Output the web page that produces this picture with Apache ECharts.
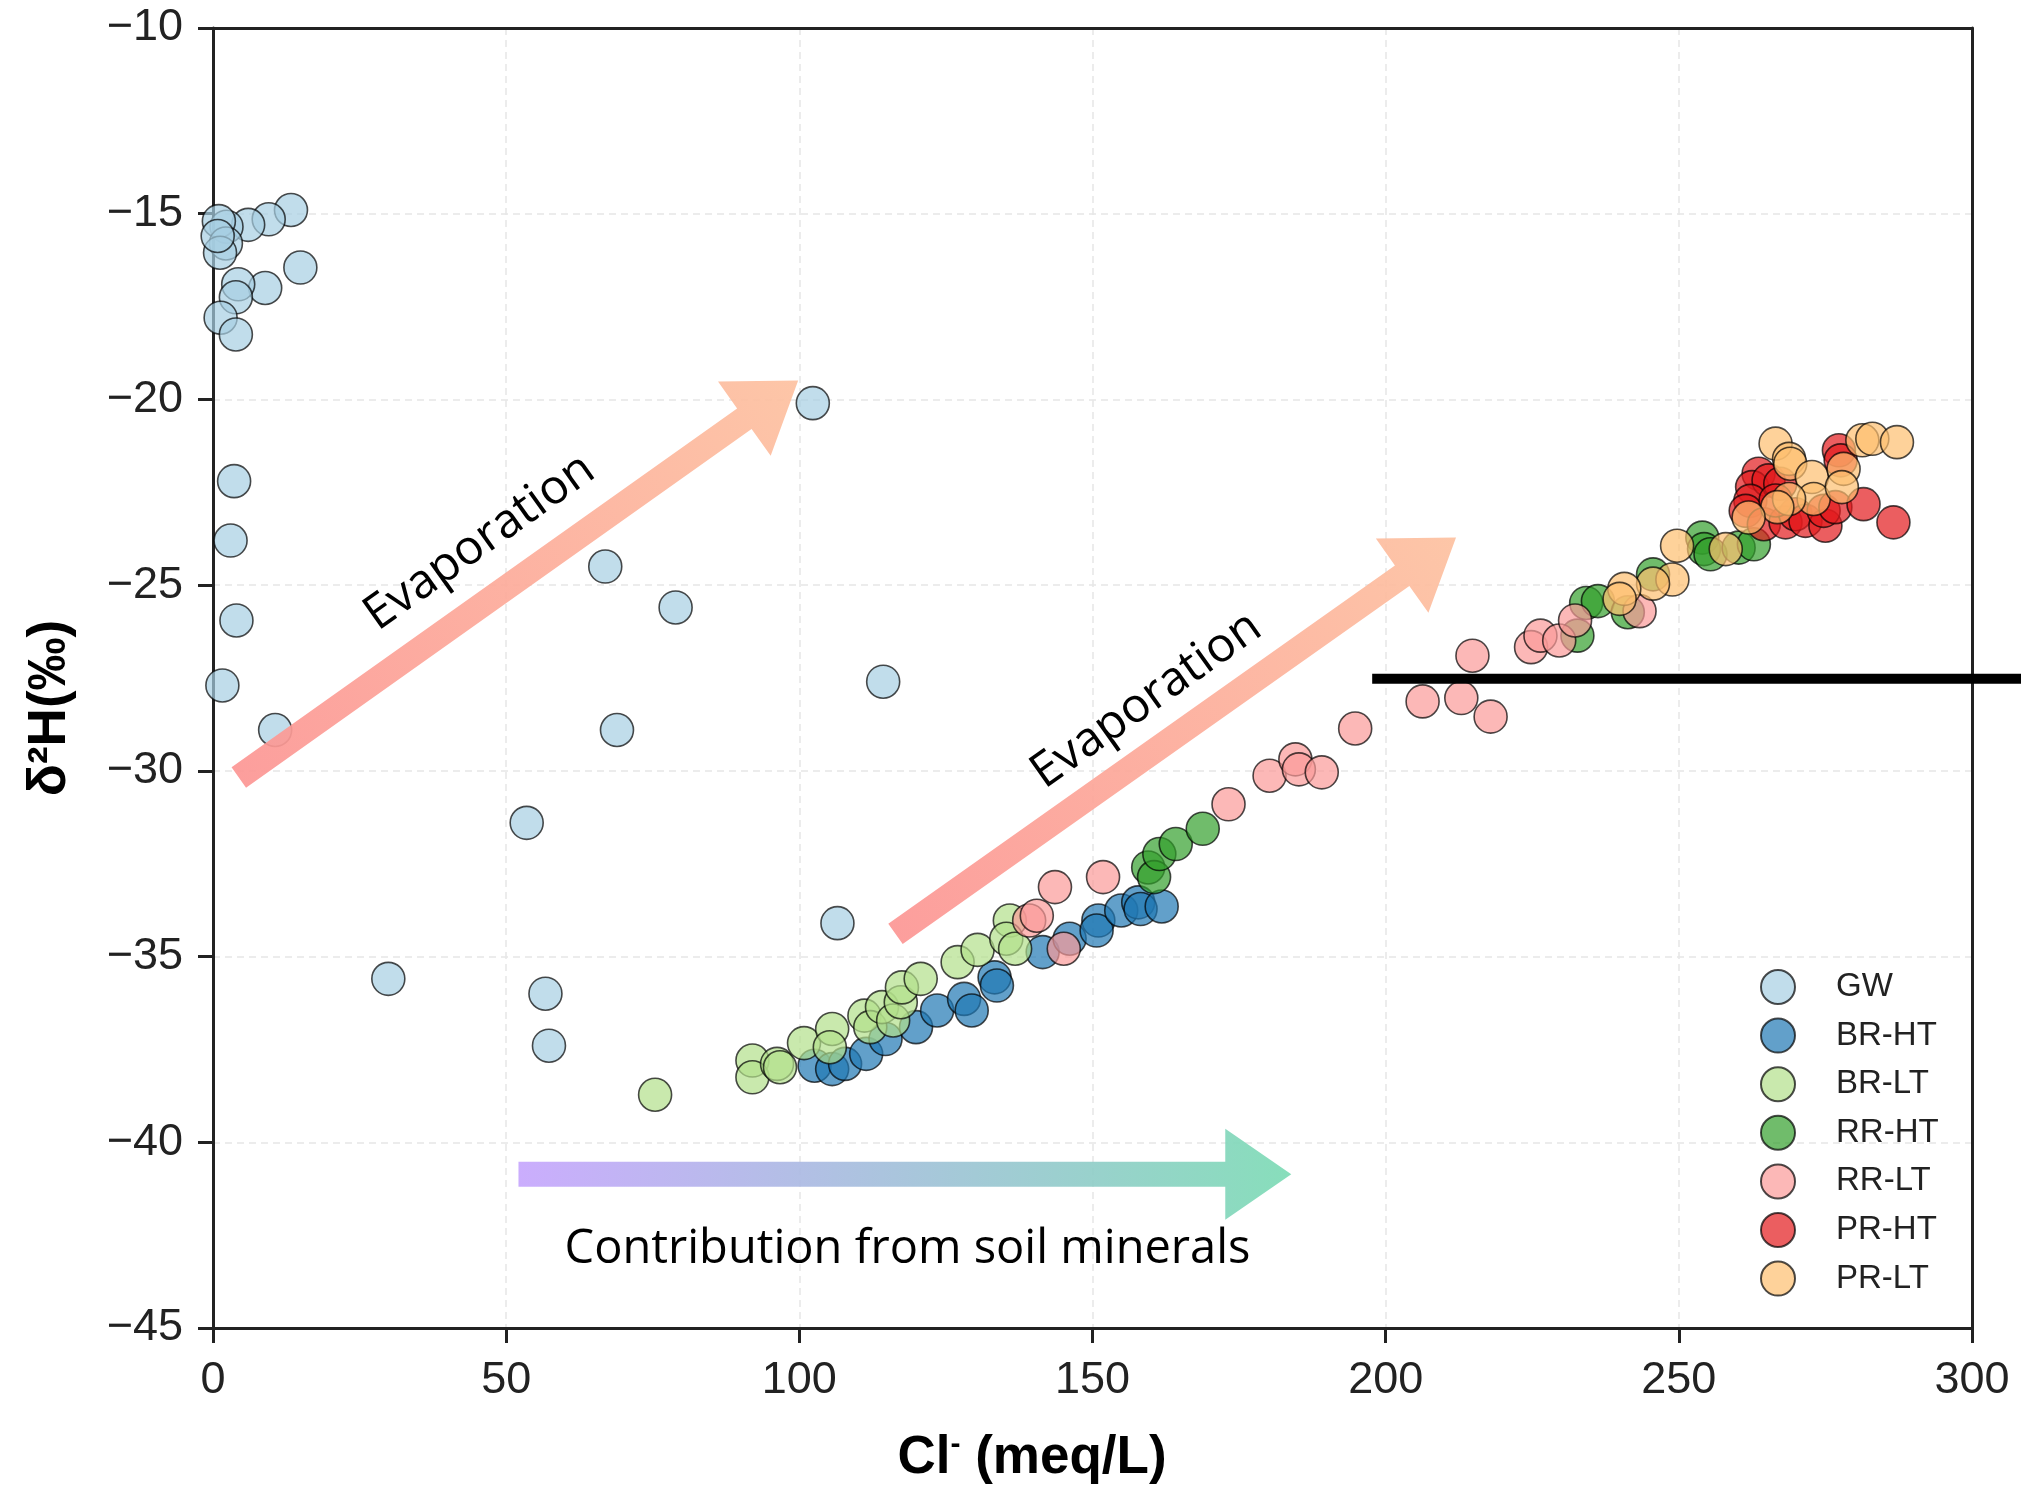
<!DOCTYPE html>
<html>
<head>
<meta charset="utf-8">
<title>δ2H vs Cl-</title>
<script src="https://cdn.jsdelivr.net/npm/echarts/dist/echarts.min.js"></script>
<style>
  html, body { margin: 0; padding: 0; background: #fff; }
  #myChart { width: 2021px; height: 1489px; }
</style>
</head>
<body>
<div id="myChart"></div>
<script>
// 坐标轴刻度
const xTicks = [0, 50, 100, 150, 200, 250, 300]
const yTicks = [-45, -40, -35, -30, -25, -20, -15, -10]

// 各组样品 [Cl-, δ2H]
const seriesNames = ['GW', 'BR-HT', 'BR-LT', 'RR-HT', 'RR-LT', 'PR-HT', 'PR-LT']
const seriesColors = ['#a6cee3', '#1f78b4', '#b2df8a', '#33a02c', '#fb9a99', '#e31a1c', '#fdbf6f']

const gw = [
  [13.3, -14.9], [9.5, -15.15], [6.0, -15.3], [2.3, -15.35], [1.0, -15.2], [2.2, -15.8],
  [1.2, -16.05], [0.8, -15.6], [14.9, -16.45], [8.9, -17.0], [4.3, -16.9], [3.9, -17.25],
  [1.3, -17.8], [3.9, -18.25], [3.6, -22.2], [3.0, -23.8], [4.0, -25.95], [1.6, -27.7],
  [10.6, -28.9], [102.3, -20.1], [66.9, -24.5], [78.9, -25.6], [114.3, -27.6], [68.9, -28.9],
  [53.5, -31.4], [106.5, -34.1], [29.9, -35.6], [56.7, -36.0], [57.3, -37.4]
]
const brHt = [
  [102.6, -37.94], [105.6, -38.03], [107.8, -37.89], [111.4, -37.62], [114.7, -37.22],
  [119.9, -36.9], [123.5, -36.45], [128.1, -36.14], [129.4, -36.45], [133.3, -35.56],
  [133.7, -35.78], [141.5, -34.88], [146.1, -34.52], [151.0, -34.03], [150.7, -34.3],
  [154.9, -33.76], [157.8, -33.54], [158.2, -33.72], [161.8, -33.65]
]
const brLt = [
  [75.4, -38.72], [92.0, -37.8], [92.0, -38.25], [96.2, -37.89], [96.7, -37.98],
  [100.8, -37.33], [105.6, -36.95], [105.2, -37.44], [111.1, -36.59], [112.1, -36.9],
  [114.1, -36.36], [116.0, -36.72], [117.3, -36.23], [117.5, -35.83], [120.7, -35.6],
  [127.0, -35.15], [130.4, -34.82], [135.9, -34.03], [135.3, -34.52], [136.8, -34.79]
]
const rrHt = [
  [159.5, -32.6], [160.5, -32.86], [161.4, -32.24], [164.2, -31.97], [168.8, -31.56],
  [232.7, -26.36], [234.2, -25.48], [236.2, -25.43], [241.3, -25.73], [245.6, -24.71],
  [254.0, -23.72], [254.3, -24.03], [255.4, -24.17], [260.2, -23.99], [262.8, -23.9]
]
const rrLt = [
  [139.2, -34.03], [140.5, -33.9], [143.6, -33.13], [145.1, -34.79], [151.8, -32.86],
  [173.2, -30.9], [180.2, -30.13], [184.6, -29.69], [185.2, -29.96], [189.1, -30.04],
  [194.8, -28.86], [206.3, -28.13], [212.9, -28.04], [217.9, -28.54], [214.8, -26.9],
  [224.8, -26.67], [226.4, -26.36], [229.6, -26.49], [232.3, -25.95], [243.3, -25.7]
]
const prHt = [
  [263.6, -22.0], [262.5, -22.36], [265.3, -22.18], [267.3, -22.27], [262.2, -22.73],
  [261.4, -23.0], [264.5, -23.36], [268.2, -23.31], [269.9, -23.09], [271.6, -23.27],
  [275.0, -23.4], [274.7, -23.0], [276.7, -22.9], [281.5, -22.82], [286.6, -23.31],
  [277.3, -21.37], [277.6, -21.64], [266.5, -22.72]
]
const prLt = [
  [266.5, -21.19], [268.8, -21.6], [269.0, -21.73], [272.7, -22.09], [273.0, -22.68],
  [268.8, -22.68], [266.8, -22.9], [261.9, -23.18], [278.1, -21.87], [277.8, -22.36],
  [281.3, -21.1], [283.0, -21.06], [287.2, -21.15], [249.7, -23.94], [248.9, -24.85],
  [258.0, -24.03], [245.6, -24.96], [240.7, -25.1], [239.9, -25.37]
]
const groups = [gw, brHt, brLt, rrHt, rrLt, prHt, prLt]

// 注释：箭头起点/终点、文字位置（数据坐标）
const evapArrow1 = [[4.4, -30.18], [99.8, -19.49]]
const evapArrow2 = [[116.4, -34.39], [212.0, -23.72]]
const soilArrow = [[52.1, -40.86], [183.9, -40.86]]
const evapLabel1 = [45.5, -23.85]
const evapLabel2 = [159.2, -28.1]
const soilLabel = [118.45, -42.88]
const blackLineStart = [197.7, -27.52]

const chart = echarts.init(document.getElementById('myChart'))

const tickFont = { fontFamily: 'Liberation Sans', fontSize: 45, color: '#222' }
const gridLine = { show: true, lineStyle: { color: '#e6e6e6', width: 1.5, type: [7, 5] } }
const axisLineStyle = { color: '#222', width: 3 }

// 上、右两条边框用不带刻度的副坐标轴画
const frameAxis = {
  type: 'value',
  axisLine: { show: true, onZero: false, lineStyle: axisLineStyle },
  axisTick: { show: false },
  axisLabel: { show: false },
  splitLine: { show: false }
}

chart.setOption({
  animation: false,
  backgroundColor: '#fff',
  grid: {
    left: 213, top: 28, right: 49, bottom: 161,
    outerBoundsMode: 'none'
  },
  legend: {
    orient: 'vertical',
    left: 1755,
    top: 964,
    itemWidth: 34,
    itemHeight: 34,
    itemGap: 12.6,
    data: seriesNames,
    textStyle: { fontFamily: 'Liberation Sans', fontSize: 33, color: '#222', padding: [0, 0, 0, 36], lineHeight: 34 }
  },
  xAxis: [{
    type: 'value', min: xTicks[0], max: xTicks[xTicks.length - 1], interval: 50,
    axisLine: { onZero: false, lineStyle: axisLineStyle },
    axisTick: { show: true, length: 15, lineStyle: axisLineStyle },
    axisLabel: Object.assign({ margin: 30 }, tickFont),
    splitLine: gridLine
  }, Object.assign({ position: 'top', min: xTicks[0], max: xTicks[xTicks.length - 1] }, frameAxis)],
  yAxis: [{
    type: 'value', min: yTicks[0], max: yTicks[yTicks.length - 1], interval: 5,
    axisLine: { onZero: false, lineStyle: axisLineStyle },
    axisTick: { show: true, length: 15, lineStyle: axisLineStyle },
    axisLabel: Object.assign({
      margin: 30,
      formatter: v => (v < 0 ? '\u2212' + Math.abs(v) : String(v))
    }, tickFont),
    splitLine: gridLine
  }, Object.assign({ position: 'right', min: yTicks[0], max: yTicks[yTicks.length - 1] }, frameAxis)],
  series: seriesNames.map((name, i) => ({
    name: name,
    type: 'scatter',
    symbol: 'circle',
    symbolSize: 33,
    data: groups[i],
    itemStyle: { color: seriesColors[i], opacity: 0.7, borderColor: '#000', borderWidth: 1.6 },
    emphasis: { disabled: true }
  }))
})

const toPx = p => chart.convertToPixel({ xAxisIndex: 0, yAxisIndex: 0 }, p)

// 箭头多边形（像素）
function arrowPoints (a, b, w, hl, hw) {
  const dx = b[0] - a[0], dy = b[1] - a[1]
  const len = Math.sqrt(dx * dx + dy * dy)
  const ux = dx / len, uy = dy / len
  const nx = -uy, ny = ux
  const bx = b[0] - ux * hl, by = b[1] - uy * hl
  return [
    [a[0] + nx * w / 2, a[1] + ny * w / 2],
    [bx + nx * w / 2, by + ny * w / 2],
    [bx + nx * hw / 2, by + ny * hw / 2],
    [b[0], b[1]],
    [bx - nx * hw / 2, by - ny * hw / 2],
    [bx - nx * w / 2, by - ny * w / 2],
    [a[0] - nx * w / 2, a[1] - ny * w / 2]
  ]
}

function arrow (pair, c0, c1) {
  const a = toPx(pair[0]), b = toPx(pair[1])
  return {
    type: 'polygon',
    z: 100,
    shape: { points: arrowPoints(a, b, 25, 66, 91) },
    style: {
      fill: { type: 'linear', x: a[0], y: a[1], x2: b[0], y2: b[1], global: true,
        colorStops: [{ offset: 0, color: c0 }, { offset: 1, color: c1 }] },
      opacity: 0.92
    },
    silent: true
  }
}

function label (pos, text, size, angle) {
  const p = toPx(pos)
  return {
    type: 'text', z: 101, x: p[0], y: p[1], rotation: angle,
    style: { text: text, fontFamily: 'Open Sans', fontSize: size, fill: '#000', align: 'center', verticalAlign: 'middle' },
    silent: true
  }
}

const e1 = toPx(evapArrow1[0]), e2 = toPx(evapArrow1[1])
const evapAngle = Math.atan2(e1[1] - e2[1], e2[0] - e1[0])
const lineStart = toPx(blackLineStart)

chart.setOption({
  graphic: [
    arrow(evapArrow1, '#fc9694', '#fdc1a0'),
    arrow(evapArrow2, '#fc9694', '#fdc1a0'),
    arrow(soilArrow, '#c6a6fd', '#7ddbb5'),
    label(evapLabel1, 'Evaporation', 48, evapAngle),
    label(evapLabel2, 'Evaporation', 48, evapAngle),
    label(soilLabel, 'Contribution from soil minerals', 47, 0),
    {
      type: 'line', z: 102, silent: true,
      shape: { x1: lineStart[0], y1: lineStart[1], x2: chart.getWidth(), y2: lineStart[1] },
      style: { stroke: '#000', lineWidth: 10 }
    },
    {
      type: 'text', z: 101, x: 1032, y: 1458, silent: true,
      style: {
        text: '{a|Cl}{s|-}{a| (meq/L)}',
        align: 'center', verticalAlign: 'middle',
        rich: {
          a: { fontFamily: 'Liberation Sans', fontWeight: 'bold', fontSize: 53, fill: '#000', lineHeight: 62 },
          s: { fontFamily: 'Liberation Sans', fontWeight: 'bold', fontSize: 30, fill: '#000', lineHeight: 62, padding: [0, 0, 27, 0] }
        }
      }
    },
    {
      type: 'text', z: 101, x: 50, y: 708, rotation: Math.PI / 2, silent: true,
      style: {
        text: 'δ²H(‰)', fontFamily: 'Liberation Sans', fontWeight: 'bold', fontSize: 53,
        fill: '#000', align: 'center', verticalAlign: 'middle'
      }
    }
  ]
})
</script>
</body>
</html>
